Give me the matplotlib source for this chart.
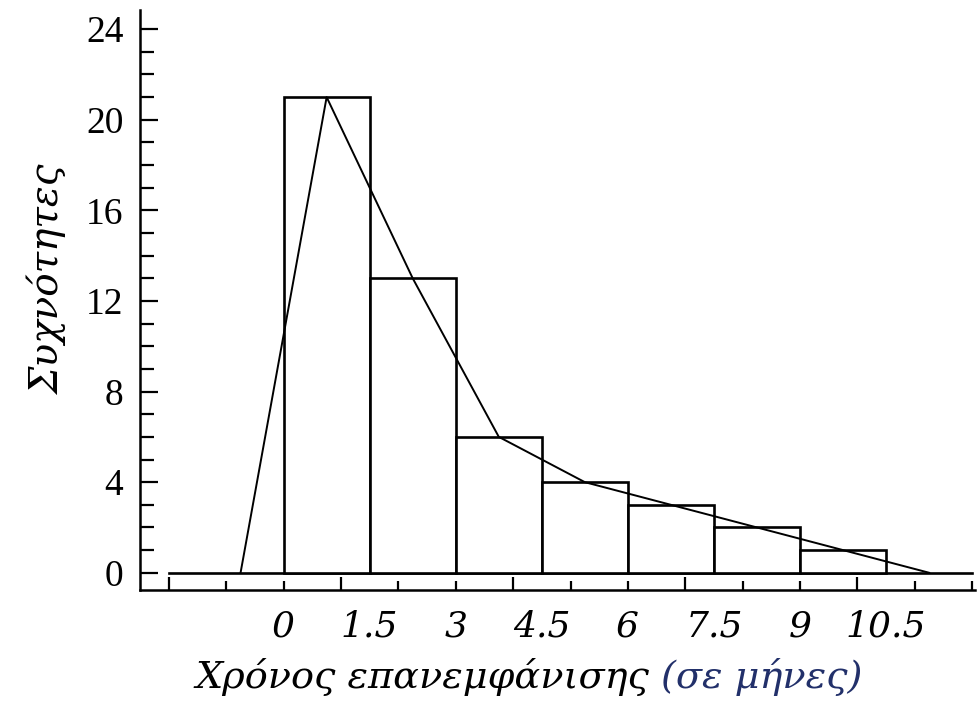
import numpy as np
import matplotlib.pyplot as plt
from matplotlib.ticker import MultipleLocator

# classes (months) and frequencies
edges = [0, 1.5, 3, 4.5, 6, 7.5, 9, 10.5]
freq = [21, 13, 6, 4, 3, 2, 1]
edge_labels = ['0', '1.5', '3', '4.5', '6', '7.5', '9', '10.5']

# frequency polygon (class midpoints, plus empty classes at both ends)
poly_x = [-0.75, 0.75, 2.25, 3.75, 5.25, 6.75, 8.25, 9.75, 11.25]
poly_y = [0, 21, 13, 6, 4, 3, 2, 1, 0]

base_x = [-2, 12]
long_xticks = [-2, 1, 4, 7, 10]
yticks = [0, 4, 8, 12, 16, 20, 24]

plt.rcParams['font.family'] = ['Liberation Serif', 'DejaVu Serif']
ital = ['DejaVu Serif']

fig = plt.figure(figsize=(9.8, 7.08), dpi=100)
ax = fig.add_axes([0.143, 0.167, 0.852, 0.819])

w = np.diff(edges)
ax.bar(edges[:-1], freq, width=w, align='edge', color='white',
       edgecolor='black', linewidth=1.9, zorder=2)
ax.plot(base_x, [0, 0], color='black', lw=1.9, zorder=1)
ax.plot(poly_x, poly_y, color='black', lw=1.4, zorder=3)

ax.set_xlim(-2.5, 12.05)
ax.set_ylim(-0.75, 24.85)

for s in ['top', 'right']:
    ax.spines[s].set_visible(False)
for s in ['left', 'bottom']:
    ax.spines[s].set_linewidth(1.8)

# y axis: labelled ticks every 4, small ticks every 1, pointing inwards
ax.set_yticks(yticks)
ax.yaxis.set_minor_locator(MultipleLocator(1))
ax.tick_params(axis='y', which='major', direction='in', length=13, width=1.6,
               labelsize=27, pad=12)
ax.tick_params(axis='y', which='minor', direction='in', length=10, width=1.6)

# x axis: tick marks at every month, longer every third
ax.set_xticks(long_xticks)
ax.set_xticklabels([])
ax.xaxis.set_minor_locator(MultipleLocator(1))
ax.tick_params(axis='x', which='major', direction='in', length=9.5, width=1.6)
ax.tick_params(axis='x', which='minor', direction='in', length=6.5, width=1.6)

# labels at the class edges
sec = ax.secondary_xaxis('bottom')
sec.set_xticks(edges)
sec.set_xticklabels(edge_labels, fontstyle='italic', family=ital)
sec.tick_params(length=0, labelsize=26, pad=14)
sec.spines['bottom'].set_visible(False)

ax.set_ylabel('Συχνότητες', fontsize=28, fontstyle='italic', family=ital)
ax.yaxis.set_label_coords(-0.088, 0.535)

x0, yb = 0.199, 0.028
t = fig.text(x0, yb, 'Χρόνος επανεμφάνισης ', fontsize=27.5,
             fontstyle='italic', family=ital, ha='left', va='baseline')
fig.canvas.draw()
bb = t.get_window_extent().transformed(fig.transFigure.inverted())
fig.text(bb.x1, yb, '(σε μήνες)', fontsize=27.5, fontstyle='italic',
         family=ital, color='#22306a', ha='left', va='baseline')

fig.savefig('out.png', dpi=100)
